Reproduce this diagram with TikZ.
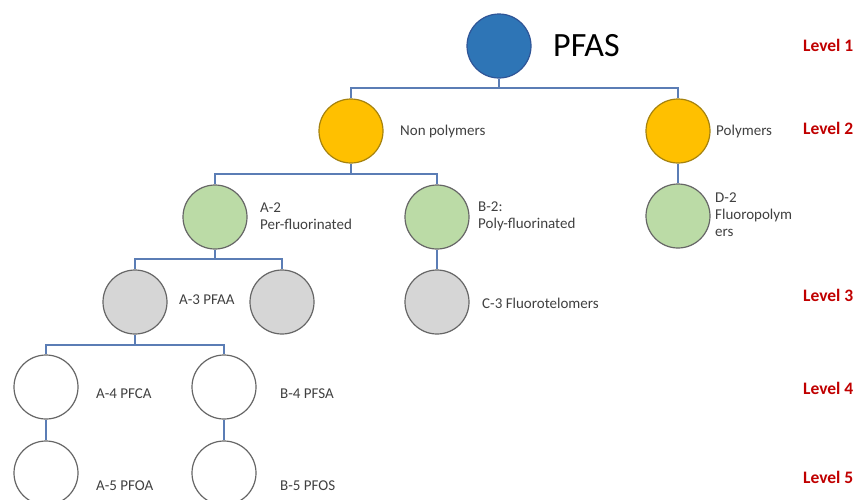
\documentclass[tikz,border=0pt]{standalone}
\usepackage{fontspec}
\setmainfont{Carlito}
\definecolor{pblue}{HTML}{2E75B6}
\definecolor{pblueline}{HTML}{2F5597}
\definecolor{porange}{HTML}{FFC000}
\definecolor{porangeline}{HTML}{A5820E}
\definecolor{pgreen}{HTML}{BBDBA6}
\definecolor{pgray}{HTML}{D6D6D6}
\definecolor{cline}{HTML}{5B7DB5}
\definecolor{circline}{HTML}{666666}
\definecolor{lvlred}{HTML}{C00000}
\definecolor{lbl}{HTML}{404040}
\begin{document}
\begin{tikzpicture}[x=1pt,y=-1pt,
  dot/.style={circle,minimum size=64pt,inner sep=0pt,line width=1.2pt,draw=circline},
  bluedot/.style={dot,fill=pblue,draw=pblueline},
  orangedot/.style={dot,fill=porange,draw=porangeline},
  greendot/.style={dot,fill=pgreen},
  graydot/.style={dot,fill=pgray},
  whitedot/.style={dot,fill=white},
  lab/.style={anchor=west,inner sep=0pt,align=left,text=lbl,font=\fontsize{15}{17}\selectfont},
  lvl/.style={anchor=west,inner sep=0pt,text=lvlred,font=\fontsize{17.5}{20}\selectfont\bfseries},
  conn/.style={draw=cline,line width=1.4pt}]
\useasboundingbox (0,0) rectangle (857,499);
% circles
\node[bluedot] (pfas) at (499,46) {};
\node[orangedot] (np) at (351,131) {};
\node[orangedot] (pol) at (678,131) {};
\node[greendot] (d2) at (678,216) {};
\node[greendot] (a2) at (215,217) {};
\node[greendot] (b2) at (437,217) {};
\node[graydot] (a3) at (135,302) {};
\node[graydot] (g3) at (282,302) {};
\node[graydot] (c3) at (437,302) {};
\node[whitedot] (a4) at (46,387) {};
\node[whitedot] (b4) at (224,387) {};
\node[whitedot] (a5) at (46,473) {};
\node[whitedot] (b5) at (224,473) {};
% bus coordinates
\coordinate (bus1) at (499,88);
\coordinate (bus2) at (351,174);
\coordinate (bus3) at (215,259);
\coordinate (bus4) at (135,345);
% connectors
\begin{scope}[on background layer/.style={}]
\draw[conn] (pfas.south) -- (bus1);
\draw[conn] (np.north) |- (bus1) -| (pol.north);
\draw[conn] (np.south) -- (bus2);
\draw[conn] (a2.north) |- (bus2) -| (b2.north);
\draw[conn] (a2.south) -- (bus3);
\draw[conn] (a3.north) |- (bus3) -| (g3.north);
\draw[conn] (a3.south) -- (bus4);
\draw[conn] (a4.north) |- (bus4) -| (b4.north);
\draw[conn] (pol.south) -- (d2.north);
\draw[conn] (b2.south) -- (c3.north);
\draw[conn] (a4.south) -- (a5.north);
\draw[conn] (b4.south) -- (b5.north);
\end{scope}
% labels
\node[anchor=west,inner sep=0pt,font=\fontsize{34}{38}\selectfont] (tpfas) at (553,46) {PFAS};
\node[lab] (tnp) at (400,131) {Non polymers};
\node[lab] (tpol) at (716,131) {Polymers};
\node[lab] (td2) at (715,215) {D-2\\Fluoropolym\\ers};
\node[lab] (ta2) at (260,216) {A-2\\Per-fluorinated};
\node[lab] (tb2) at (478,216) {B-2:\\Poly-fluorinated};
\node[lab] (ta3) at (179,300) {A-3 PFAA};
\node[lab] (tc3) at (482,303) {C-3 Fluorotelomers};
\node[lab] (ta4) at (96,394) {A-4 PFCA};
\node[lab] (tb4) at (280,394) {B-4 PFSA};
\node[lab] (ta5) at (96,486) {A-5 PFOA};
\node[lab] (tb5) at (280,486) {B-5 PFOS};
% levels
\node[lvl] (l1) at (803,45) {Level 1};
\node[lvl] (l2) at (803,128) {Level 2};
\node[lvl] (l3) at (803,295) {Level 3};
\node[lvl] (l4) at (803,388) {Level 4};
\node[lvl] (l5) at (803,477) {Level 5};
\end{tikzpicture}
\end{document}
